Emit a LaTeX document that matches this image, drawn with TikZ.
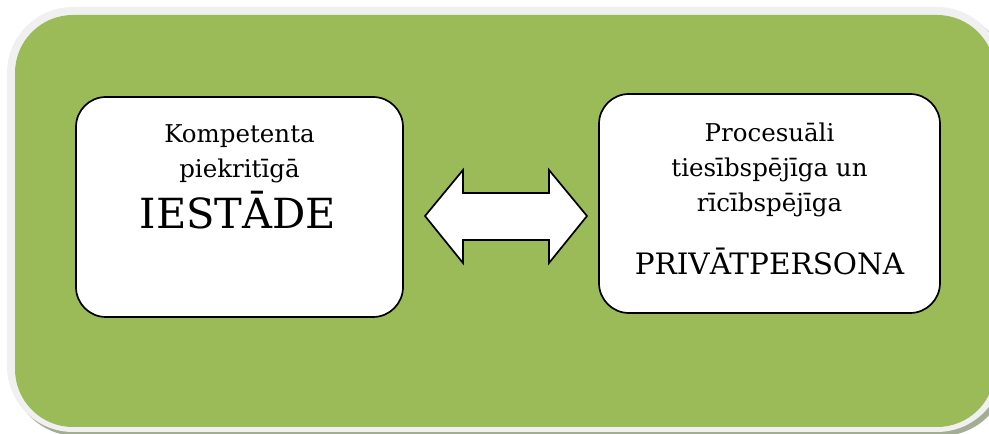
\documentclass[tikz,border=0pt]{standalone}
\usepackage{fontspec}
\setmainfont{DejaVu Serif}
\definecolor{panelgreen}{HTML}{9BBB59}
\definecolor{rimgrey}{HTML}{F0F0F0}
\definecolor{shadowgrey}{HTML}{A3AD95}
\begin{document}
\begin{tikzpicture}[x=1pt,y=1pt,
  box/.style={draw=black,line width=1.7pt,fill=white,rounded corners=30pt,inner sep=0pt},
  small/.style={font=\fontsize{24.5}{28}\selectfont,anchor=base,inner sep=0pt},
  big/.style={font=\fontsize{41.5}{46}\selectfont,anchor=base,inner sep=0pt},
  mid/.style={font=\fontsize{29.5}{32}\selectfont,anchor=base,inner sep=0pt}]
\useasboundingbox (0,0) rectangle (989,434);
% panel with rim and shadow
\fill[shadowgrey,rounded corners=66pt] (11,-2) rectangle (1007,423);
\fill[rimgrey,rounded corners=66pt] (7,2) rectangle (1003,427);
\fill[panelgreen,rounded corners=58pt] (15,7) rectangle (995,419);
% boxes
\node[box,minimum width=327pt,minimum height=220pt] (left) at (239.5,227) {};
\node[box,minimum width=341pt,minimum height=219pt] (right) at (769.5,230.5) {};
% texts
\node[small] (l1) at (239.5,291) {Kompetenta};
\node[small] (l2) at (239.5,256) {piekritīgā};
\node[big] (l3) at (238,205) {IESTĀDE};
\node[small] (r1) at (769.5,292) {Procesuāli};
\node[small] (r2) at (769.5,257) {tiesībspējīga un};
\node[small] (r3) at (769.5,222) {rīcībspējīga};
\node[mid] (r4) at (769.5,159) {PRIVĀTPERSONA};
% double arrow
\draw[line width=1.7pt,fill=white,line join=miter]
  (425,218) -- (463,264) -- (463,241) -- (549,241) -- (549,264) -- (587,218)
  -- (549,171) -- (549,194) -- (463,194) -- (463,171) -- cycle;
\end{tikzpicture}
\end{document}
